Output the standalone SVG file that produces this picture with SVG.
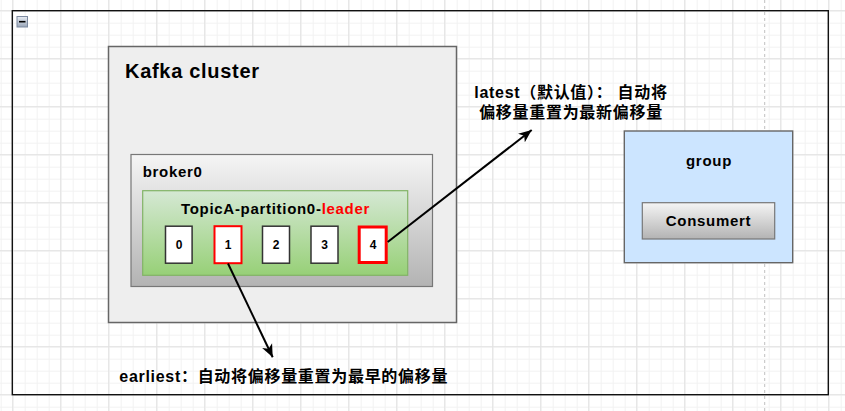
<svg xmlns="http://www.w3.org/2000/svg" width="845" height="411" viewBox="0 0 845 411">
<style>
.t{font-family:"Liberation Sans","Noto Sans CJK SC",Arial,sans-serif;font-weight:bold;fill:#000;letter-spacing:0.7px}
.cjk{font-family:"Liberation Sans","Noto Sans CJK SC",sans-serif;font-weight:bold;fill:#000;letter-spacing:0.7px;font-size:16px}
.box{fill:#fff;stroke:#333;stroke-width:1.5}
.red1{fill:#fff;stroke:#ff0000;stroke-width:2}
.red2{fill:#fff;stroke:#ff0000;stroke-width:3}
.num{font-family:"Liberation Sans",Arial,sans-serif;font-weight:bold;font-size:12px;text-anchor:middle}
.conn{stroke:#000;stroke-width:2;fill:none}
</style>
<defs>
<pattern id="minor" width="12" height="12" patternUnits="userSpaceOnUse" x="0.7" y="10.7">
<path d="M0,0.5 H12 M0.5,0 V12" stroke="#f2f2f2" stroke-width="1" fill="none"/>
</pattern>
<pattern id="major" width="48" height="48" patternUnits="userSpaceOnUse" x="12.2" y="10.2">
<path d="M0,0.5 H48 M0.5,0 V48" stroke="#e2e2e2" stroke-width="1" fill="none"/>
</pattern>
<linearGradient id="gray" x1="0" y1="0" x2="0" y2="1">
<stop offset="0" stop-color="#f5f5f5"/>
<stop offset="1" stop-color="#b3b3b3"/>
</linearGradient>
<linearGradient id="green" x1="0" y1="0" x2="0" y2="1">
<stop offset="0" stop-color="#d5e8d4"/>
<stop offset="1" stop-color="#97d077"/>
</linearGradient>
<linearGradient id="icon" x1="0" y1="0" x2="0" y2="1">
<stop offset="0" stop-color="#e8edf4"/>
<stop offset="1" stop-color="#9aa6b8"/>
</linearGradient>
<marker id="arr" markerWidth="14" markerHeight="12" refX="13" refY="6" orient="auto" markerUnits="userSpaceOnUse">
<path d="M0,0.5 L13,6 L0,11.5 L3.5,6 Z" fill="#000"/>
</marker>
</defs>

<rect width="845" height="411" fill="#fff"/>
<rect width="845" height="411" fill="url(#minor)"/>
<rect width="845" height="411" fill="url(#major)"/>
<line x1="764.7" y1="0" x2="764.7" y2="411" stroke="#c0c0c0" stroke-width="1" stroke-dasharray="3,3"/>

<g id="outer">
<rect x="12.3" y="10.7" width="816" height="384" fill="none" stroke="#111" stroke-width="1.4"/>
<rect x="17" y="16.5" width="10.5" height="10.5" fill="url(#icon)" stroke="#7d8aa0" stroke-width="1"/>
<line x1="19" y1="21.7" x2="25.5" y2="21.7" stroke="#000" stroke-width="1.6"/>
</g>

<g id="kafka-cluster">
<rect x="108.5" y="46.5" width="348" height="276" fill="#eeeeee" stroke="#666" stroke-width="1.5"/>
<text class="t" x="125" y="77.5" font-size="20">Kafka cluster</text>
</g>

<g id="broker0">
<rect x="131" y="154.5" width="301.5" height="132" fill="url(#gray)" stroke="#777" stroke-width="1.2"/>
<text class="t" x="142.7" y="177.3" font-size="15">broker0</text>
</g>

<g id="partition">
<rect x="142.7" y="190.7" width="265" height="84.6" fill="url(#green)" stroke="#82b366" stroke-width="1.2"/>
<text class="t" x="275.5" y="214" font-size="15" text-anchor="middle">TopicA-partition0-<tspan fill="#ff0000">leader</tspan></text>
</g>

<g id="offset0">
<rect class="box" x="165.5" y="226.2" width="26.6" height="37"/>
<text class="num" x="179" y="248.6">0</text>
</g>
<g id="offset1">
<rect class="red1" x="214.5" y="226.2" width="27" height="37"/>
<text class="num" x="228" y="248.6">1</text>
</g>
<g id="offset2">
<rect class="box" x="262.5" y="226.2" width="27" height="37"/>
<text class="num" x="276" y="248.6">2</text>
</g>
<g id="offset3">
<rect class="box" x="311" y="226.2" width="27" height="37"/>
<text class="num" x="324.5" y="248.6">3</text>
</g>
<g id="offset4">
<rect class="red2" x="359.2" y="227" width="27" height="35.5"/>
<text class="num" x="373" y="248.6">4</text>
</g>

<g id="group">
<rect x="624.3" y="131" width="168.4" height="131.7" fill="#cce5ff" stroke="#666" stroke-width="1.4"/>
<text class="t" x="709" y="165.7" font-size="15" text-anchor="middle">group</text>
</g>

<g id="consumer">
<rect x="642.3" y="202.7" width="132.4" height="36.3" fill="url(#gray)" stroke="#777" stroke-width="1.2"/>
<text class="t" x="708.5" y="226" font-size="15" text-anchor="middle" letter-spacing="0.4">Consumert</text>
</g>

<g id="connectors">
<line class="conn" x1="228" y1="263.5" x2="272.7" y2="357.3" marker-end="url(#arr)"/>
<line class="conn" x1="387.7" y1="242" x2="531.7" y2="130" marker-end="url(#arr)"/>
</g>

<g id="label-latest">
<text class="cjk" x="571" y="97.5" text-anchor="middle">latest（默认值）： 自动将</text>
<text class="cjk" x="571" y="117.5" text-anchor="middle">偏移量重置为最新偏移量</text>
</g>

<g id="label-earliest">
<text class="cjk" x="119.3" y="382">earliest：自动将偏移量重置为最早的偏移量</text>
</g>
</svg>
